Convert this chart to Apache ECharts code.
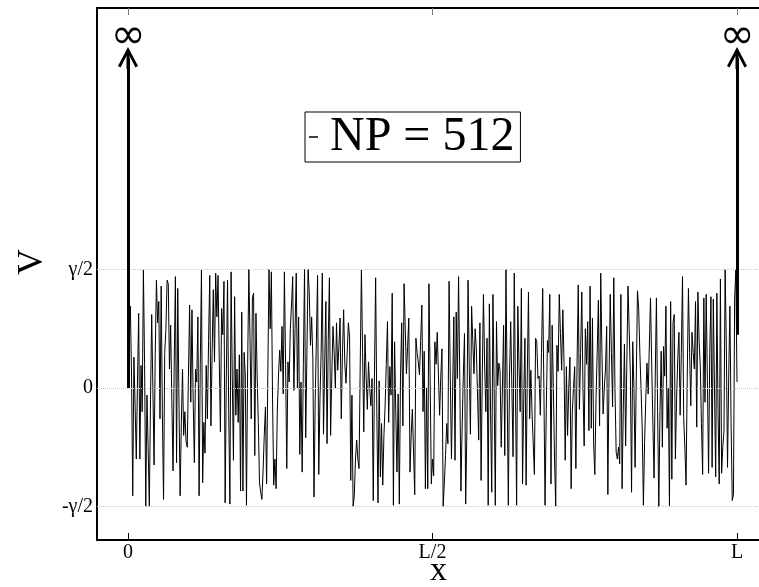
<!DOCTYPE html>
<html><head><meta charset="utf-8">
<script src="https://cdn.jsdelivr.net/npm/echarts@6/dist/echarts.min.js"></script>
<style>html,body{margin:0;padding:0;background:#fff;overflow:hidden;width:759px;height:587px}#c{width:780px;height:587px}</style>
</head><body><div id="c"></div>
<script>
// Random potential V(x), in units of gamma/2, read segment by segment from left (x=0) to right (x=L)
const seg1 = [0,0.45,0.69,0.1,-0.91,0.26,-0.15,-0.6,0.05,0.63,-0.6,0.19,-0.2,1.0,0.2,-1.0,-0.06,-0.5,-1.0,-0.1,0.62,0.0,-0.65,0.3,0.91,0.55,0.73,-0.26,0.86,-0.2,-0.94,0.3,0.5,0.91,0.88,0.16,0.53,-0.1,-0.7,0.2,0.94,-0.63,0.84,-0.1,-0.91,-0.3,0.16,-0.4];
const seg2 = [-0.2,-0.45,-0.5,0.1,0.7,-0.12,0.66,-0.1,-0.63,0.16,0.05,0.6,-0.91,0.2,1.0,-0.8,-0.29,-0.55,0.19,-0.26,0.4,0.95,-0.32,0.3,0.83,0.22,0.97,0.6,0.95,0.25,-0.37,0.67,0.45,0.9,-0.97,0.1,0.91,-0.2,-0.98,0.98,0.1,-0.61,0.77,-0.23,0.16,-0.29,0.28,-0.87,0.64];
const seg3 = [-0.87,0.3,0.1,-0.99,0.2,1.0,0.4,-0.26,0.76,0.8,-0.57,0.63,0.1,-0.3,-0.8,-0.88,-0.94,-0.7,-0.4,-0.16,-0.81,0.1,1.0,0.5,0.98,-0.1,-0.82,-0.6,-0.85,-0.2,0.1,0.32,0.14,0.52,-0.05,0.98,0.2,-0.68,0.22,0.05,0.5,0.7,0.94,-0.02,0.5,0.97,0.0,0.6,-0.56];
const seg4 = [0.05,-0.71,0.2,1.0,-0.42,0.3,1.0,0.8,0.36,0.6,0.25,-0.92,-0.1,0.4,0.95,-0.73,-0.1,0.3,0.97,-0.39,0.2,0.73,-0.47,0.4,0.93,-0.4,0.1,0.52,0.3,0.0,0.55,0.15,0.35,0.59,-0.26,0.3,0.66,0.2,0.04,0.3,0.55,0.43,-0.78,-0.06,-1.0,-0.91,-0.6,-0.44,-0.6];
const seg5 = [-0.68,0.2,1.0,0.3,-0.37,0.45,0.1,-0.18,0.22,0.0,-0.15,0.08,-0.95,0.1,0.93,-0.2,-0.97,0.06,-0.75,-0.3,-0.82,-0.4,-0.15,0.2,0.56,-0.29,0.18,-0.06,0.8,-0.99,0.39,-0.2,-0.71,-0.05,-0.98,0.1,0.55,-0.32,0.88,0.5,0.12,0.35,0.59,-0.71,-0.4,-0.18,-0.18,-0.9,0.42];
const seg6 = [0.3,0.22,0.11,0.4,0.7,-0.2,0.31,-0.85,0.0,-0.85,0.88,0.1,-0.81,-0.6,-0.74,0.39,0.2,0.47,0.11,-0.23,0.1,0.33,-1.0,-0.8,-0.57,-0.3,-0.47,0.9,0.1,-0.6,0.0,0.6,-0.61,0.64,0.08,0.94,0.09,-0.87,-0.34,0.1,0.46,-0.98,-0.37,0.91,0.2,-0.39,0.69,0.4,0.12];
const seg7 = [0.5,0.33,0.32,-0.44,0.55,-0.78,0.1,0.79,0.2,-0.2,0.42,-0.99,0.71,-0.2,-0.88,0.79,0.0,-0.99,0.56,0.02,0.21,0.15,-0.5,0.0,0.53,-0.57,1.0,0.0,-0.99,0.1,0.56,0.0,-0.58,0.97,0.0,-0.99,0.69,0.2,-0.2,0.84,-0.81,-0.1,0.42,-0.82,0.1,0.81,-0.26,0.15,-0.2];
const seg8 = [-0.19,-0.73,0.42,0.39,0.08,0.1,-0.23,0.3,0.84,0.0,-0.99,-0.2,0.4,0.3,0.79,-0.81,0.53,0.0,-0.6,-1.0,0.36,0.14,0.79,0.46,0.15,0.66,0.22,-0.61,0.18,-0.4,0.0,0.26,-0.85,-0.2,0.0,0.18,-0.68,0.2,0.87,-0.18,0.3,0.81,0.0,-0.49,0.5,0.2,0.56,-0.36,0.86];
const seg9 = [-0.34,0.59,-0.47,-0.73,-0.09,0.3,0.74,-0.32,0.97,0.3,-0.22,0.0,0.16,0.52,-0.9,0.1,0.79,0.3,-0.16,0.93,0.0,-0.54,-0.6,-0.5,-0.64,0.79,-0.85,-0.2,0.37,-0.49,0.2,0.86,0.5,0.11,-0.88,0.39,0.0,-0.67,0.1,0.82,0.67,0.3,0.0,-0.34,-0.99,-0.46,-0.1,0.21,-0.05];
const seg10 = [-0.05,0.76,0.2,-0.3,-0.76,0.1,0.76,-0.2,-1.0,-0.2,0.31,-0.5,0.35,0.1,0.69,-0.34,0.0,-1.0,0.73,-0.77,0.55,0.62,-0.6,-0.1,0.25,0.47,-0.23,0.3,0.94,-0.25,-0.5,-0.82,0.1,0.84,0.3,-0.15,0.47,0.3,0.16,0.73,-0.33,0.81,0.4,0.19,-0.3,-0.73,0.76,-0.12,0.79];
const seg11 = [0.07,-0.72,0.3,0.77,-0.67,0.75,0.0,-0.75,0.8,-0.2,-0.81,0.92,-0.72,-0.5,-0.36,1.0,0.35,-0.67,0.1,0.69,-0.3,-0.95,-0.9,0.75,1.0,0.05];
const potential = [].concat(seg1, seg2, seg3, seg4, seg5, seg6, seg7, seg8, seg9, seg10, seg11);

const seriesName = 'NP = 512';
const xTickValues = [0, 0.5, 1];
const xTickLabels = ['0', 'L/2', 'L'];
const yTickValues = [-1, 0, 1];
const yTickLabels = ['-\u03b3/2', '0', '\u03b3/2'];
// infinite walls at x = 0 and x = L: [x, V where the arrow starts]
const wallStarts = [[0, 0], [1, 0.45]];
const wallTop = 2.785;

const FONT = 'Liberation Serif';
const N = potential.length;
const lineData = potential.map((v, i) => [i / (N - 1), v]);
const fmt = (vals, labels) => v => {
  const k = vals.findIndex(t => Math.abs(t - v) < 1e-9);
  return k >= 0 ? labels[k] : '';
};
const XMIN = -0.0509, XMAX = 1.0706, YMIN = -1.283, YMAX = 3.207;
const chevron = 'path://M10,0 L20,19 L17.5,20.5 L11.5,9 L11.5,22 L8.5,22 L8.5,9 L2.5,20.5 L0,19 Z';

const chart = echarts.init(document.getElementById('c'), null, {renderer: 'canvas'});
chart.setOption({
  animation: false,
  backgroundColor: '#fff',
  grid: {left: 97, top: 8, right: 0, bottom: 47, show: false,
         containLabel: false, outerBoundsMode: 'none'},
  legend: {
    data: [seriesName], left: 305, top: 112, icon: 'rect', itemWidth: 9, itemHeight: 1.5,
    borderColor: '#000', borderWidth: 1, padding: [1, 6, 1, 4], borderRadius: 0,
    textStyle: {fontFamily: FONT, fontSize: 48, color: '#000', padding: [0, 0, 0, 7]}, selectedMode: false
  },
  xAxis: [{
    type: 'value', min: XMIN, max: XMAX, position: 'bottom',
    axisLine: {show: true, onZero: false, lineStyle: {color: '#000', width: 2}},
    axisTick: {show: true, inside: true, length: 7, customValues: xTickValues, lineStyle: {color: '#000', width: 1}},
    axisLabel: {customValues: xTickValues, formatter: fmt(xTickValues, xTickLabels), fontFamily: FONT, fontSize: 20, color: '#000', margin: 3},
    splitLine: {show: false},
    name: 'x', nameLocation: 'middle', nameGap: 14, nameMoveOverlap: false,
    nameTextStyle: {fontFamily: FONT, fontSize: 34, color: '#000'}
  }, {
    type: 'value', min: XMIN, max: XMAX, position: 'top',
    axisLine: {show: true, onZero: false, lineStyle: {color: '#000', width: 2}},
    axisTick: {show: true, inside: true, length: 7, customValues: xTickValues, lineStyle: {color: '#777', width: 1}},
    axisLabel: {show: false}, splitLine: {show: false}
  }],
  yAxis: {
    type: 'value', min: YMIN, max: YMAX, position: 'left',
    axisLine: {show: true, onZero: false, lineStyle: {color: '#000', width: 2}}, axisTick: {show: false},
    axisLabel: {customValues: yTickValues, formatter: fmt(yTickValues, yTickLabels), fontFamily: FONT, fontSize: 20, color: '#000', margin: 4},
    splitLine: {show: false},
    name: 'V', nameLocation: 'middle', nameRotate: 90, nameGap: 42,
    nameTextStyle: {fontFamily: FONT, fontSize: 36, color: '#000', padding: [0, 0, 0, 24]}
  },
  series: [{
    name: 'grid', type: 'line', data: [], z: 1, silent: true,
    markLine: {
      silent: true, symbol: ['none', 'none'], label: {show: false},
      lineStyle: {color: '#c8c8c8', width: 1, type: 'dotted'},
      emphasis: {disabled: true},
      data: yTickValues.map(v => ({yAxis: v}))
    }
  }, {
    name: seriesName, type: 'line', data: lineData, z: 3, showSymbol: false, symbol: 'none',
    lineStyle: {color: '#000', width: 1}, itemStyle: {color: '#000'}, sampling: null,
    emphasis: {disabled: true}
  }, {
    name: 'walls', type: 'line', data: [], z: 4, silent: true,
    markLine: {
      silent: true, symbol: ['none', chevron], symbolSize: [20, 22],
      lineStyle: {color: '#000', width: 3, type: 'solid'},
      emphasis: {disabled: true},
      label: {show: true, position: 'end', formatter: '\u221e', fontFamily: 'DejaVu Sans', fontSize: 42, color: '#000', distance: 0},
      data: wallStarts.map(w => [{coord: [w[0], w[1]]}, {coord: [w[0], wallTop]}])
    }
  }]
});
</script></body></html>
